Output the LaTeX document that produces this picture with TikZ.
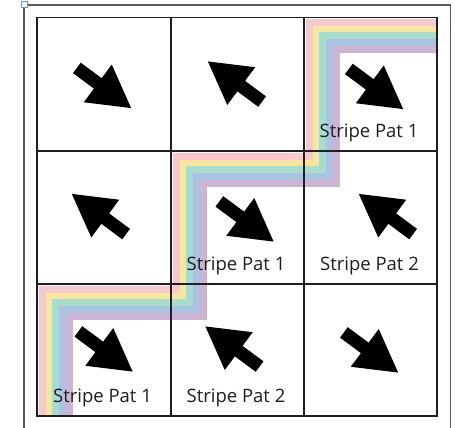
\documentclass[tikz,border=0pt]{standalone}
\usepackage{fontspec}
\setmainfont{Open Sans}
\usetikzlibrary{calc}
\definecolor{bandpink}{HTML}{F6C8CF}
\definecolor{bandyellow}{HTML}{F8E5A2}
\definecolor{bandgreen}{HTML}{A9DCCB}
\definecolor{bandblue}{HTML}{AAC3E2}
\definecolor{bandpurple}{HTML}{CDB4D5}
\definecolor{handleblue}{HTML}{6F94D6}
\tikzset{
  % one pixel of the sheet is one point, y runs down the page
  gridline/.style   = {line width=1.8pt, black!88},
  frameline/.style  = {line width=1.4pt, black!65},
  band/.style       = {line width=7.2pt, line cap=butt, line join=miter},
  patlabel/.style   = {font=\fontsize{18.5}{20}\selectfont, text=black!88,
                       inner sep=0pt, anchor=base},
  blockarrow/.pic   = {\fill[black] (-33.75,6.5) -- (-7.75,6.5) -- (-7.75,23.5)
                       -- (33.75,0) -- (-7.75,-23.5) -- (-7.75,-6.5)
                       -- (-33.75,-6.5) -- cycle;},
}

\begin{document}
\begin{tikzpicture}[x=1pt, y=-1pt]
    \useasboundingbox (0,0) rectangle (455,428);
    \fill[white] (0,0) rectangle (455,428);

    % sheet frame, its bottom edge runs off the page
    \draw[frameline] (24,430) -- (24,5) -- (450.5,5) -- (450.5,430);
    \draw[handleblue, fill=white, line width=0.8pt] (21,1.5) rectangle (27,7.5);

    % rainbow band, each stripe is the same stair shifted along the diagonal
    \begin{scope}
        \clip (37,17.5) rectangle (437,416);
        \draw[band, bandpink,   shift={(3.4,3.4)}]  (450,19) -- (306,19) -- (306,153)
            -- (173,153) -- (173,286) -- (39,286) -- (39,430);
        \draw[band, bandyellow, shift={(10.2,10.2)}] (450,19) -- (306,19) -- (306,153)
            -- (173,153) -- (173,286) -- (39,286) -- (39,430);
        \draw[band, bandgreen,  shift={(17,17)}]     (450,19) -- (306,19) -- (306,153)
            -- (173,153) -- (173,286) -- (39,286) -- (39,430);
        \draw[band, bandblue,   shift={(23.8,23.8)}] (450,19) -- (306,19) -- (306,153)
            -- (173,153) -- (173,286) -- (39,286) -- (39,430);
        \draw[band, bandpurple, shift={(30.6,30.6)}] (450,19) -- (306,19) -- (306,153)
            -- (173,153) -- (173,286) -- (39,286) -- (39,430);
    \end{scope}

    % the 3x3 grid
    \draw[gridline] (37,17.5) rectangle (437,416);
    \draw[gridline] (171,17.5) -- (171,416);
    \draw[gridline] (304,17.5) -- (304,416);
    \draw[gridline] (37,151) -- (437,151);
    \draw[gridline] (37,284) -- (437,284);

    % arrows, alternating down-right and up-left
    \pic (a11) [rotate=-36.5] at (104,88)    {blockarrow};
    \pic (a12) [rotate=143.5] at (235,81.5)  {blockarrow};
    \pic (a13) [rotate=-36.5] at (376,89)    {blockarrow};
    \pic (a21) [rotate=143.5] at (99,214)    {blockarrow};
    \pic (a22) [rotate=-36.5] at (246.5,221.5) {blockarrow};
    \pic (a23) [rotate=143.5] at (386,214)   {blockarrow};
    \pic (a31) [rotate=-36.5] at (105.5,351.5) {blockarrow};
    \pic (a32) [rotate=143.5] at (232.5,346.5) {blockarrow};
    \pic (a33) [rotate=-36.5] at (371,352.5) {blockarrow};

    \node[patlabel] (l13) at (369,137)   {Stripe Pat 1};
    \node[patlabel] (l22) at (236,270)   {Stripe Pat 1};
    \node[patlabel] (l23) at (369.5,270) {Stripe Pat 2};
    \node[patlabel] (l31) at (102.5,402) {Stripe Pat 1};
    \node[patlabel] (l32) at (236,402)   {Stripe Pat 2};
\end{tikzpicture}
\end{document}
